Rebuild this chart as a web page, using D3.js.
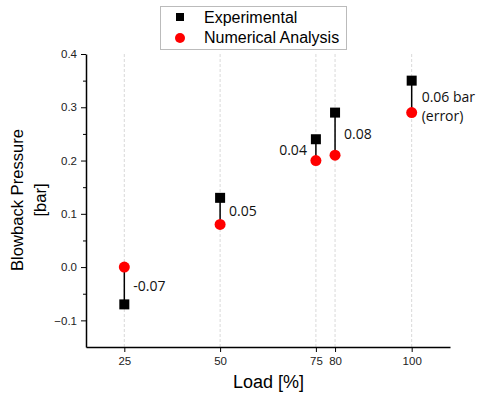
<!DOCTYPE html>
<html>
<head>
<meta charset="utf-8">
<script src="https://cdn.jsdelivr.net/npm/d3@7"></script>
<style>
  body { margin: 0; background: #fff; }
  svg { display: block; }
</style>
</head>
<body>
<script>
// data
var loads = [25, 50, 75, 80, 100];
var experimental = [-0.07, 0.13, 0.24, 0.29, 0.35];
var numerical = [0.00, 0.08, 0.20, 0.21, 0.29];
var errorLabels = ["-0.07", "0.05", "0.04", "0.08", "0.06 bar"];
var yTicks = [-0.1, 0.0, 0.1, 0.2, 0.3, 0.4];
var yMinorTicks = [-0.05, 0.05, 0.15, 0.25, 0.35];

var svgWidth = 484;
var svgHeight = 393;

var svg = d3.select("body")
  .append("svg")
  .attr("width", svgWidth)
  .attr("height", svgHeight);

var xScale = d3.scaleLinear().domain([15, 110]).range([86, 450]);
var yScale = d3.scaleLinear().domain([-0.15, 0.4]).range([347, 54]);

// vertical grid lines
svg.append("g")
  .selectAll("line")
  .data(loads)
  .enter()
  .append("line")
  .attr("x1", d => xScale(d))
  .attr("x2", d => xScale(d))
  .attr("y1", yScale(0.4))
  .attr("y2", yScale(-0.15))
  .attr("stroke", "#cfcfcf")
  .attr("stroke-width", 0.8)
  .attr("stroke-dasharray", "3,2");

// axes
var bottomAxis = d3.axisBottom(xScale)
  .tickValues(loads)
  .tickSize(5)
  .tickSizeOuter(0);
var leftAxis = d3.axisLeft(yScale)
  .tickValues(yTicks)
  .tickFormat(d3.format(".1f"))
  .tickSize(5)
  .tickSizeOuter(0);

var gx = svg.append("g")
  .attr("transform", `translate(0, ${yScale(-0.15)})`)
  .call(bottomAxis);
var gy = svg.append("g")
  .attr("transform", `translate(${xScale(15)}, 0)`)
  .call(leftAxis);

// minor ticks on the y axis
svg.append("g")
  .attr("transform", `translate(${xScale(15)}, 0)`)
  .call(d3.axisLeft(yScale).tickValues(yMinorTicks).tickSize(3).tickSizeOuter(0).tickFormat(""))
  .call(g => g.select(".domain").remove())
  .selectAll(".tick line").attr("stroke", "#000");

[gx, gy].forEach(function(g) {
  g.select(".domain").attr("stroke", "#000").attr("stroke-width", 1.5);
  g.selectAll(".tick line").attr("stroke", "#000").attr("stroke-width", 1);
  g.selectAll(".tick text")
    .attr("font-family", "Liberation Sans, Arial, sans-serif")
    .attr("font-size", "11.5px")
    .attr("fill", "#222");
});
gx.selectAll(".tick text").attr("dy", "0.9em");
gy.selectAll(".tick text").attr("x", -9).text(d => d < 0 ? "\u22120.1" : d3.format(".1f")(d));

// connectors
svg.append("g")
  .selectAll("line")
  .data(loads)
  .enter()
  .append("line")
  .attr("x1", d => xScale(d))
  .attr("x2", d => xScale(d))
  .attr("y1", (d, i) => yScale(experimental[i]))
  .attr("y2", (d, i) => yScale(numerical[i]))
  .attr("stroke", "#000")
  .attr("stroke-width", 1.5);

// experimental squares
svg.append("g")
  .selectAll("rect")
  .data(loads)
  .enter()
  .append("rect")
  .attr("x", d => xScale(d) - 5)
  .attr("y", (d, i) => yScale(experimental[i]) - 5)
  .attr("width", 10)
  .attr("height", 10)
  .attr("fill", "#000");

// numerical circles
svg.append("g")
  .selectAll("circle")
  .data(loads)
  .enter()
  .append("circle")
  .attr("cx", d => xScale(d))
  .attr("cy", (d, i) => yScale(numerical[i]))
  .attr("r", 5.5)
  .attr("fill", "#ff0000");

// error labels
var labelDx = [9, 9, -9, 9, 10];
svg.append("g")
  .selectAll("text")
  .data(loads)
  .enter()
  .append("text")
  .attr("x", (d, i) => xScale(d) + labelDx[i])
  .attr("y", (d, i) => (yScale(experimental[i]) + yScale(numerical[i])) / 2)
  .attr("dy", "0.35em")
  .attr("text-anchor", (d, i) => labelDx[i] < 0 ? "end" : "start")
  .attr("font-family", "Open Sans, Noto Sans, sans-serif")
  .attr("font-size", "14px")
  .attr("fill", "#111")
  .text((d, i) => errorLabels[i]);

svg.append("text")
  .attr("x", xScale(100) + 10)
  .attr("y", (yScale(0.35) + yScale(0.29)) / 2 + 19)
  .attr("dy", "0.35em")
  .attr("font-family", "Open Sans, Noto Sans, sans-serif")
  .attr("font-size", "14px")
  .attr("fill", "#111")
  .text("(error)");

// axis titles
svg.append("text")
  .attr("x", 268.5)
  .attr("y", 388)
  .attr("text-anchor", "middle")
  .attr("font-family", "Liberation Sans, Arial, sans-serif")
  .attr("font-size", "18px")
  .attr("fill", "#000")
  .text("Load [%]");

var yTitle = svg.append("text")
  .attr("transform", "translate(23, 200) rotate(-90)")
  .attr("text-anchor", "middle")
  .attr("font-family", "Liberation Sans, Arial, sans-serif")
  .attr("font-size", "16.6px")
  .attr("fill", "#000");
yTitle.append("tspan").attr("x", 0).attr("y", 0).text("Blowback Pressure");
yTitle.append("tspan").attr("x", 0).attr("y", 23).text("[bar]");

// legend
var legend = svg.append("g");
legend.append("rect")
  .attr("x", 160.5)
  .attr("y", 6.5)
  .attr("width", 186)
  .attr("height", 43)
  .attr("fill", "#fff")
  .attr("stroke", "#bbb")
  .attr("stroke-width", 1);
legend.append("rect")
  .attr("x", 176)
  .attr("y", 13)
  .attr("width", 8)
  .attr("height", 8)
  .attr("fill", "#000");
legend.append("circle")
  .attr("cx", 180)
  .attr("cy", 38)
  .attr("r", 5)
  .attr("fill", "#ff0000");
legend.append("text")
  .attr("x", 204)
  .attr("y", 23)
  .attr("font-family", "Liberation Sans, Arial, sans-serif")
  .attr("font-size", "16px")
  .text("Experimental");
legend.append("text")
  .attr("x", 204)
  .attr("y", 43)
  .attr("font-family", "Liberation Sans, Arial, sans-serif")
  .attr("font-size", "16px")
  .text("Numerical Analysis");
</script>
</body>
</html>
